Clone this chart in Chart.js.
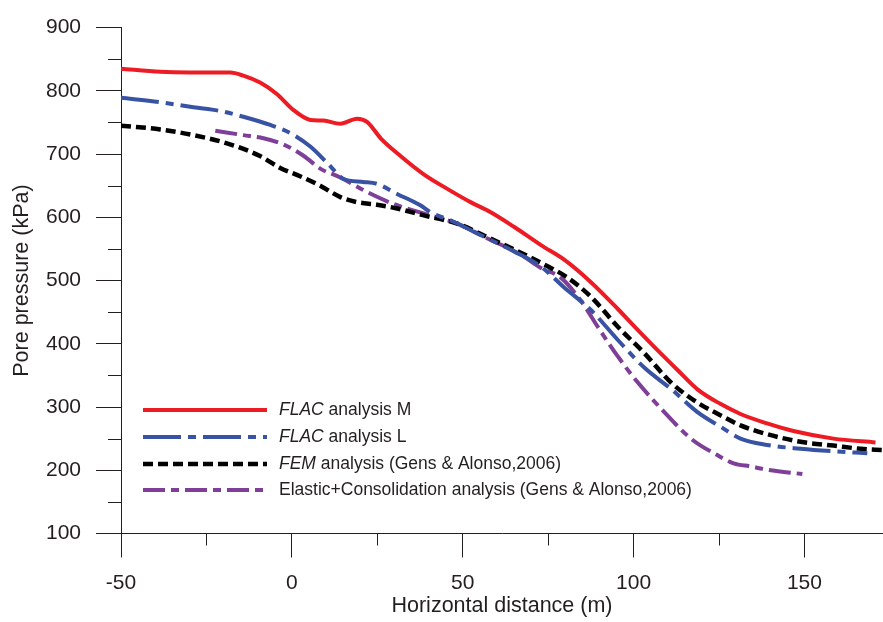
<!DOCTYPE html>
<html>
<head>
<meta charset="utf-8">
<script src="https://cdn.jsdelivr.net/npm/chart.js@4/dist/chart.umd.min.js"></script>
<style>
  html, body { margin: 0; padding: 0; background: #ffffff; }
  #wrap { width: 883px; height: 622px; }
</style>
</head>
<body>
<div id="wrap"><canvas id="c" width="883" height="622"></canvas></div>
<script>
// Horizontal distance (m) and pore pressure (kPa) for each analysis
const xFlacM = [-50, -38.5, -29.7, -18, -14.2, -9.3, -4.4, 0.4, 5.4, 9.2, 14.2, 19.1, 22, 26, 31.8, 38.6, 45.5, 52.3, 58.2, 65, 72.9, 79.7, 87.6, 95.4, 101.2, 107, 112.8, 118.7, 125.4, 131.3, 139.1, 146.8, 158.5, 170.8];
const pFlacM = [835, 830, 829, 829, 824, 813, 795, 770, 754, 753, 748, 756, 751, 725, 697, 668, 645, 624, 608, 585, 556, 533, 497, 455, 422, 390, 359, 328, 305, 289, 274, 262, 250, 244];

const xFlacL = [-50, -38.5, -28.8, -20.9, -14.2, -6.3, -0.4, 5.4, 10.7, 15, 20.9, 24.9, 30.8, 37.6, 40.6, 47.3, 55.2, 65, 72.9, 79.7, 87.6, 95.4, 103.2, 111.1, 118.7, 125.4, 131.3, 139.1, 148.9, 158.5, 168.4];
const pFlacL = [789, 782, 774, 768, 759, 746, 733, 712, 684, 661, 656, 653, 637, 619, 608, 593, 572, 546, 522, 489, 453, 406, 362, 328, 292, 269, 250, 240, 234, 230, 227];

const xFem = [-50, -38.5, -28.8, -19, -9.3, -3.4, 2.4, 8.3, 14.2, 19.1, 24.9, 30.8, 38.6, 48.4, 57.1, 67, 74.7, 80.6, 87.6, 95.4, 103.2, 111.1, 118.7, 125.4, 131.3, 139.1, 148.9, 158.5, 166.4, 173];
const pFem = [745, 739, 730, 717, 697, 678, 665, 650, 632, 624, 620, 614, 603, 590, 569, 544, 523, 505, 474, 427, 385, 338, 307, 287, 271, 257, 245, 239, 234, 232];

const xElastic = [-22.4, -14.2, -8.3, -2.4, 3.5, 8.3, 14.2, 22, 29.8, 38.6, 48.4, 57.1, 67, 72.9, 78.6, 84.6, 89.5, 95.4, 101.2, 109, 116.8, 124.5, 129.3, 134.3, 139.1, 149.4];
const pElastic = [737, 730, 725, 715, 697, 677, 663, 640, 621, 606, 590, 567, 541, 520, 505, 468, 427, 380, 339, 292, 250, 224, 211, 206, 201, 194];

// Legend text: italic prefix + regular remainder
const seriesItalic = ['FLAC', 'FLAC', 'FEM', ''];
const seriesRest = [' analysis M', ' analysis L', ' analysis (Gens & Alonso,2006)', 'Elastic+Consolidation analysis (Gens & Alonso,2006)'];

// Axis ticks
const xMajorTicks = [-50, 0, 50, 100, 150];
const xMinorTicks = [-25, 25, 75, 125];
const yMajorTicks = [100, 200, 300, 400, 500, 600, 700, 800, 900];
const yMinorTicks = [150, 250, 350, 450, 550, 650, 750, 850];

const FONT = '"Liberation Sans", Arial, Helvetica, sans-serif';
const INK = '#231f20';

function pts(xs, ys) { return xs.map((x, i) => ({ x: x, y: ys[i] })); }

const lineStyles = [
  { color: '#ed1c24', dash: [], width: 4 },
  { color: '#3953a4', dash: [38, 7, 8, 7], width: 4 },
  { color: '#000000', dash: [10, 5], width: 4.5 },
  { color: '#7f3f98', dash: [22, 6, 8, 6], width: 4 }
];

const seriesData = [pts(xFlacM, pFlacM), pts(xFlacL, pFlacL), pts(xFem, pFem), pts(xElastic, pElastic)];

const datasets = seriesData.map((d, i) => ({
  label: seriesItalic[i] + seriesRest[i],
  data: d,
  showLine: true,
  borderColor: lineStyles[i].color,
  backgroundColor: lineStyles[i].color,
  borderWidth: lineStyles[i].width,
  borderDash: lineStyles[i].dash,
  borderCapStyle: 'butt',
  borderJoinStyle: 'round',
  pointRadius: 0,
  pointHoverRadius: 0,
  fill: false,
  cubicInterpolationMode: 'monotone'
}));

// Minor tick marks and the in-plot legend
const extrasPlugin = {
  id: 'extras',
  afterDraw(chart) {
    const ctx = chart.ctx;
    const xs = chart.scales.x, ys = chart.scales.y;
    const area = chart.chartArea;
    ctx.save();
    ctx.strokeStyle = INK;
    ctx.lineWidth = 1;
    ctx.beginPath();
    xMinorTicks.forEach(v => {
      const px = Math.round(xs.getPixelForValue(v)) + 0.5;
      ctx.moveTo(px, area.bottom);
      ctx.lineTo(px, area.bottom + 12);
    });
    yMinorTicks.forEach(v => {
      const py = Math.round(ys.getPixelForValue(v)) + 0.5;
      ctx.moveTo(area.left - 13, py);
      ctx.lineTo(area.left, py);
    });
    ctx.stroke();

    // legend
    const lx0 = 143, lx1 = 267, tx = 279;
    const rowY = [410, 437, 464, 490];
    chart.data.datasets.forEach((ds, i) => {
      const y = rowY[i];
      ctx.beginPath();
      ctx.strokeStyle = ds.borderColor;
      ctx.lineWidth = ds.borderWidth;
      ctx.lineCap = 'butt';
      ctx.setLineDash(ds.borderDash);
      ctx.moveTo(lx0, y);
      ctx.lineTo(lx1, y);
      ctx.stroke();
      ctx.setLineDash([]);
      ctx.fillStyle = INK;
      ctx.textBaseline = 'middle';
      ctx.textAlign = 'left';
      let x = tx;
      if (seriesItalic[i]) {
        ctx.font = 'italic 17.5px ' + FONT;
        ctx.fillText(seriesItalic[i], x, y);
        x += ctx.measureText(seriesItalic[i]).width;
      }
      ctx.font = '17.5px ' + FONT;
      ctx.fillText(seriesRest[i], x, y);
    });
    ctx.restore();
  }
};

new Chart(document.getElementById('c'), {
  type: 'scatter',
  data: { datasets: datasets },
  plugins: [extrasPlugin],
  options: {
    responsive: false,
    animation: false,
    devicePixelRatio: 1,
    layout: { padding: { top: 19, right: 0, left: 0, bottom: 0 } },
    plugins: { legend: { display: false }, tooltip: { enabled: false } },
    scales: {
      x: {
        type: 'linear',
        min: -50,
        max: 173,
        afterFit(s) { s.height = 88.5; },
        afterBuildTicks(s) { s.ticks = xMajorTicks.map(v => ({ value: v })); },
        ticks: {
          font: { family: FONT, size: 21 },
          color: INK,
          padding: 13,
          maxRotation: 0,
          autoSkip: false,
          callback: v => String(v)
        },
        grid: { drawOnChartArea: false, tickLength: 24, tickColor: INK, tickWidth: 1 },
        border: { color: INK, width: 1 },
        title: {
          display: true,
          text: 'Horizontal distance (m)',
          color: INK,
          font: { family: FONT, size: 21.5 },
          padding: { top: 0, bottom: 3 }
        }
      },
      y: {
        type: 'linear',
        min: 100,
        max: 900,
        afterFit(s) { s.width = 121; },
        afterBuildTicks(s) { s.ticks = yMajorTicks.map(v => ({ value: v })); },
        ticks: {
          font: { family: FONT, size: 21 },
          color: INK,
          padding: 15,
          autoSkip: false,
          callback: v => String(v)
        },
        grid: { drawOnChartArea: false, tickLength: 25, tickColor: INK, tickWidth: 1 },
        border: { color: INK, width: 1 },
        title: {
          display: true,
          text: 'Pore pressure (kPa)',
          color: INK,
          font: { family: FONT, size: 21.5 },
          padding: { top: 9, bottom: 0 }
        }
      }
    }
  }
});
</script>
</body>
</html>
